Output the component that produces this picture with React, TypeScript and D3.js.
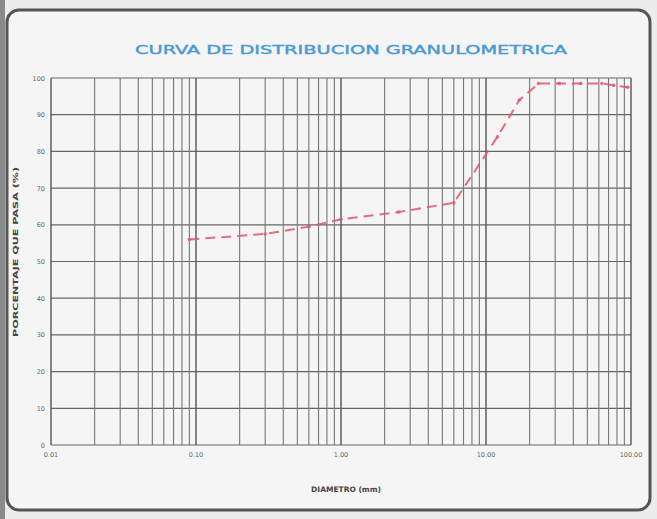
import React from "react";
import * as d3 from "d3";

// Tamices (mm) y porcentaje que pasa
const diametros = [0.09, 0.3, 0.6, 1.0, 2.5, 6.0, 12.0, 17.0, 23.0, 32.0, 45.0, 63.0, 76.0, 95.0];
const pasa = [56, 57.5, 59.5, 61.5, 63.5, 66, 84, 94, 98.5, 98.5, 98.5, 98.5, 98, 97.5];

const xTicks = [0.01, 0.1, 1, 10, 100];
const xTickLabels = ["0.01", "0.10", "1.00", "10.00", "100.00"];
const yTicks = [0, 10, 20, 30, 40, 50, 60, 70, 80, 90, 100];

const W = 657;
const H = 519;
const margin = { top: 78, right: 26, bottom: 74, left: 51 };

const App: React.FC = () => {
  const x = d3
    .scaleLog()
    .domain([0.01, 100])
    .range([margin.left, W - margin.right]);
  const y = d3
    .scaleLinear()
    .domain([0, 100])
    .range([H - margin.bottom, margin.top]);

  // minor log grid lines 2..9 in each decade
  const minor: number[] = [];
  xTicks.slice(0, -1).forEach((d) => {
    for (let k = 2; k <= 9; k++) minor.push(d * k);
  });

  const pts = diametros.map((d, i) => ({ d, p: pasa[i] }));
  const line = d3
    .line<{ d: number; p: number }>()
    .x((v) => x(v.d))
    .y((v) => y(v.p));

  const [x0, x1] = x.range();
  const [y0, y1] = y.range();

  return (
    <div style={{ position: "absolute", left: 0, top: 0 }}>
      <svg width={W} height={H} style={{ display: "block" }}>
        <rect x={0} y={0} width={W} height={H} fill="#ececec" />
        <rect x={0} y={0} width={5} height={H} fill="#8a8a8a" />
        <rect
          x={7}
          y={10}
          width={643}
          height={500}
          rx={12}
          fill="#f5f5f5"
          stroke="#555"
          strokeWidth={3}
        />

        <text
          x={351}
          y={54}
          textAnchor="middle"
          fontFamily="DejaVu Sans Condensed, DejaVu Sans"
          fontSize={13}
          fill="#4b9ad6"
          stroke="#4b9ad6"
          strokeWidth={0.4}
          textLength={432}
          lengthAdjust="spacingAndGlyphs"
        >
          CURVA DE DISTRIBUCION GRANULOMETRICA
        </text>

        {/* horizontal grid */}
        {yTicks.map((t) => (
          <line
            key={"h" + t}
            x1={x0}
            x2={x1}
            y1={y(t)}
            y2={y(t)}
            stroke="#666"
            strokeWidth={1.2}
          />
        ))}
        {/* vertical grid */}
        {minor.map((t) => (
          <line
            key={"m" + t}
            x1={x(t)}
            x2={x(t)}
            y1={y0}
            y2={y1}
            stroke="#777"
            strokeWidth={1.1}
          />
        ))}
        {xTicks.map((t) => (
          <line
            key={"v" + t}
            x1={x(t)}
            x2={x(t)}
            y1={y0}
            y2={y1}
            stroke="#555"
            strokeWidth={1.4}
          />
        ))}

        {/* y labels */}
        {yTicks.map((t) => (
          <text
            key={"yl" + t}
            x={x0 - 6}
            y={y(t) + 2.5}
            textAnchor="end"
            fontFamily="DejaVu Sans"
            fontSize={6.5}
            fill="#666"
          >
            {t}
          </text>
        ))}
        {/* x labels */}
        {xTicks.map((t, i) => (
          <text
            key={"xl" + t}
            x={x(t)}
            y={y0 + 12}
            textAnchor="middle"
            fontFamily="DejaVu Sans"
            fontSize={6.5}
            fill="#666"
          >
            {xTickLabels[i]}
          </text>
        ))}

        <text
          x={346}
          y={492}
          textAnchor="middle"
          fontFamily="DejaVu Sans"
          fontWeight="bold"
          fontSize={7.5}
          fill="#444"
        >
          DIAMETRO (mm)
        </text>
        <text
          transform="translate(18,252) rotate(-90)"
          textAnchor="middle"
          fontFamily="DejaVu Sans"
          fontWeight="bold"
          fontSize={7}
          fill="#444"
          textLength={170}
          lengthAdjust="spacingAndGlyphs"
        >
          PORCENTAJE QUE PASA (%)
        </text>

        {/* curva */}
        <path
          d={line(pts) || ""}
          fill="none"
          stroke="#e0546e"
          strokeWidth={2}
          strokeDasharray="10,6"
          opacity={0.85}
        />
        {pts.map((v, i) => (
          <circle
            key={"p" + i}
            cx={x(v.d)}
            cy={y(v.p)}
            r={1.8}
            fill="#e0546e"
            opacity={0.85}
          />
        ))}
      </svg>
    </div>
  );
};

export default App;
